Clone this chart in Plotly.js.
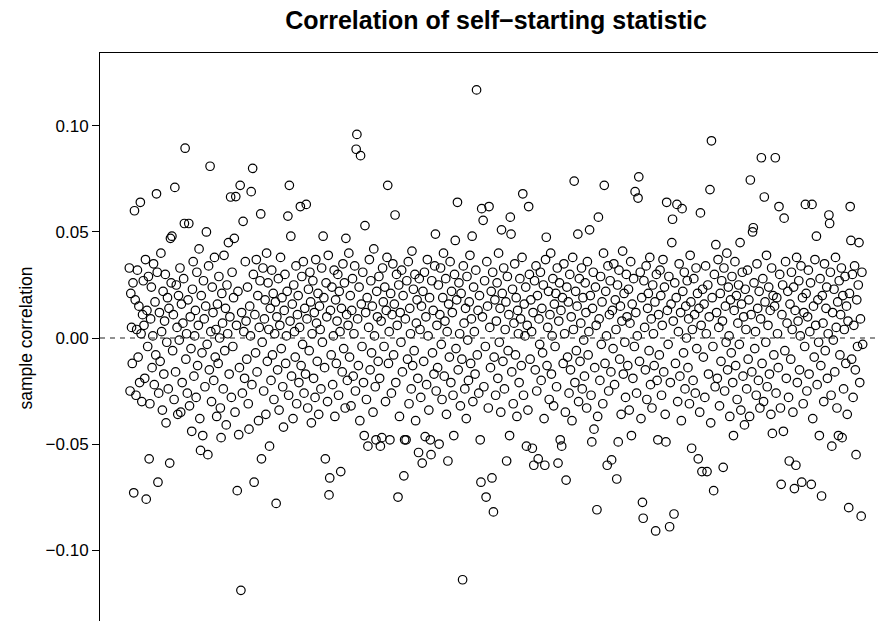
<!DOCTYPE html>
<html>
<head>
<meta charset="utf-8">
<script src="https://cdn.plot.ly/plotly-3.0.1.min.js"></script>
<style>
  html, body { margin: 0; padding: 0; overflow: hidden; background: #fff; }
  #chart { width: 900px; height: 630px; }
</style>
</head>
<body>
<div id="chart"></div>
<script>
// sample correlations, in order
const correlations = [
  .033, -.025, .021, .005, -.012, .026, -.073, .060, .018, -.027, .004, .032, -.009, .015, -.021, .064, .002, -.030, .011, .027,
  .006, -.019, .037, -.076, .013, -.004, .029, -.057, -.031, .009, .024, -.014, .001, .035, -.022, .017, -.008, .068, .031, -.068,
  -.026, .012, -.011, .040, .003, -.034, .022, -.017, .008, .030, -.040, -.002, .019, -.024, .014, -.059, .047, .026, .048, -.006,
  .011, -.029, .071, -.016, .025, .005, -.036, .020, -.001, .033, -.035, .016, -.021, .007, .028, .054, .0895, -.010, .002, -.026,
  .018, .054, -.032, .010, -.005, -.044, .023, .036, -.018, .001, .013, -.028, .031, -.013, .006, .042, -.038, -.053, .020, -.007,
  -.046, .027, .009, -.023, .015, .050, -.003, -.055, .034, -.015, .081, .003, -.030, .024, .012, -.020, .038, -.009, .004, -.037,
  .016, -.012, .029, .000, -.033, -.047, .021, .007, -.024, .039, -.006, .014, -.041, .025, .002, .045, -.017, .010, .0665, -.028,
  .031, -.004, .019, .047, -.035, .0667, .006, -.072, .022, -.0456, -.014, .072, -.119, .012, -.026, .055, .003, -.019, .036, .008,
  -.010, .024, -.031, -.043, .015, .001, .069, -.022, .080, .030, -.068, .011, -.007, .037, -.016, .020, -.039, .005, .027, .0585,
  -.057, -.002, .033, -.025, .009, .018, -.036, .040, -.011, .026, .004, -.051, .014, -.020, .032, -.008, .021, -.029, .002, .017,
  -.078, .010, -.015, .028, -.034, .006, .038, -.005, .019, -.023, -.042, .013, .030, -.012, .001, .022, .0575, -.027, .072, .008,
  .048, -.018, .016, -.038, .025, .003, -.009, .034, -.031, .011, .020, -.021, .005, .062, -.013, .029, -.003, .036, -.026, .014,
  -.017, .063, .009, -.033, .023, -.006, .031, .017, -.040, .002, .027, -.019, .012, -.028, .037, .007, -.011, .021, -.036, .015,
  .004, -.024, .033, -.002, .048, .019, -.014, -.057, .026, .010, -.030, .039, -.074, -.066, .013, -.008, .024, -.022, .001, .032,
  -.037, .018, -.012, .008, .030, -.027, .022, .003, -.063, .014, -.016, .035, -.005, .026, -.033, .047, .011, -.020, .006, .040,
  -.009, .020, -.032, .013, .028, -.018, .002, .034, -.025, .089, .096, .009, -.013, .024, -.039, .086, .016, -.004, .031, -.021,
  -.046, .053, .012, -.029, .019, -.051, .005, .037, -.015, .027, -.007, .015, -.035, .042, .001, -.023, -.048, .022, .010, -.011,
  .029, -.019, -.051, .008, -.047, .033, .017, -.004, .024, -.030, .013, .038, .072, -.012, .003, -.048, .021, -.026, .011, .035,
  -.008, .016, .058, -.021, .030, .006, -.075, .025, -.037, .012, -.002, .032, -.016, .020, -.065, -.048, .009, -.048, .027, -.010,
  .036, -.031, .014, .002, -.024, .041, -.013, .023, -.006, .030, -.039, .007, .018, -.019, -.054, .028, .004, -.028, .015, -.059,
  .022, -.011, .031, -.0465, .010, -.022, .037, .001, -.034, .019, -.048, -.055, .027, -.007, .013, -.017, .034, .049, -.025, .006,
  -.014, .025, -.050, .011, .033, -.003, -.029, .019, .040, -.018, .008, .028, -.036, .003, -.058, .016, -.009, .036, -.021, .022,
  .012, -.027, -.046, .030, .046, -.005, .018, .064, -.015, .026, .002, -.032, .021, -.010, -.114, .034, .007, -.024, .014, -.038,
  .029, -.001, -.020, .017, .039, -.012, .009, .048, -.030, .024, .003, -.017, .032, .117, -.008, .013, -.026, .020, -.048, -.068,
  .061, .010, .0555, -.023, .027, -.004, -.075, .036, .015, -.033, .062, .005, -.014, .022, -.066, .031, -.082, -.009, .018, -.027,
  .008, .026, -.019, .040, -.002, .014, -.035, .051, .021, -.011, .033, -.024, .004, .017, -.058, .029, -.006, .011, -.046, .057,
  .049, -.016, .023, -.031, .007, .035, -.008, .019, -.037, .013, .002, -.021, .028, .009, -.013, .038, .068, -.027, .016, .001,
  .024, -.051, .006, -.034, .062, .030, -.010, .018, .003, -.052, .012, -.060, .027, -.015, .034, -.025, .020, -.057, .009, -.003,
  .031, -.020, .014, -.007, .025, -.038, -.060, .037, .0475, -.013, .005, .022, -.029, .011, .040, -.017, .001, .028, -.032, .016,
  -.004, .021, -.023, .033, -.059, .008, .026, -.048, .013, -.051, .019, -.012, .035, .002, -.035, -.067, .024, -.009, .017, -.026,
  .030, -.015, .010, -.039, .038, .004, .074, -.021, .022, -.006, .015, .049, -.030, .028, -.011, .007, .033, -.024, .019, -.001,
  -.018, .026, .012, -.033, .036, -.008, .003, .051, .020, -.027, -.049, .014, .031, -.043, -.014, .024, .006, -.081, -.037, .057,
  .009, -.020, .029, -.003, .017, -.031, .040, .072, -.012, .022, .001, -.060, .034, -.025, .011, .027, -.016, -.0575, .013, -.005,
  .035, -.022, .018, .004, -.0665, .025, -.049, .032, -.010, .015, -.036, .008, .041, -.017, .021, -.002, -.028, .030, .010, -.013,
  .023, -.034, .007, .036, -.046, .016, -.019, .028, -.004, .069, .012, -.026, .001, .066, .076, -.011, .031, -.038, .019, -.0775,
  -.085, .027, .005, -.015, .034, -.029, .014, .021, -.006, .038, -.022, .009, -.033, .025, .002, -.013, .017, -.091, .030, -.020,
  -.048, .011, -.008, .032, .020, -.027, .006, .037, -.016, .024, -.036, -.049, .064, .013, -.003, .029, -.089, -.021, .016, .045,
  .056, .008, -.083, .026, -.012, .019, .063, -.030, .003, .035, -.018, .012, -.039, .061, .022, -.007, .031, -.024, .015, .000,
  .027, -.014, .009, -.031, .039, .017, -.052, .004, -.020, .028, .011, -.026, .033, -.005, .021, -.057, .014, -.035, .059, .006,
  -.063, .023, -.009, .016, -.028, .034, .002, -.063, .025, -.017, .010, .070, -.040, .093, .019, -.004, -.072, .030, -.023, .044,
  .012, -.019, .037, .005, -.032, .021, -.011, .027, .008, -.061, .033, -.025, .015, -.002, .040, -.015, .024, .001, -.037, .018,
  -.007, .029, -.021, -.046, .013, .036, -.013, .020, -.029, .007, .025, -.003, .045, -.034, .016, .031, -.018, .010, -.041, .023,
  .004, -.024, .032, -.010, .018, -.037, .0745, .011, -.016, .050, .052, .026, -.005, .003, -.027, .035, .014, -.020, .022, -.033,
  .009, .085, -.012, .028, -.030, .0665, .017, -.002, .039, -.023, .006, .024, -.017, .013, -.036, .033, -.045, .020, -.008, .015,
  .085, -.026, .019, .002, -.014, .062, .030, -.033, -.069, .011, .025, -.044, .0565, -.006, .036, -.019, .007, .022, -.028, -.058,
  .016, -.010, .031, .004, -.035, .024, -.071, .013, -.060, .038, -.021, .008, .027, -.015, .001, .034, -.068, .019, -.031, .012,
  -.004, .063, .021, -.025, .010, .032, -.017, .003, .026, -.069, .063, -.038, .015, -.009, .037, .006, .048, -.022, .018, -.002,
  -.046, .028, -.013, -.0745, .020, .007, -.030, .035, -.006, .014, .024, -.019, .002, .058, .054, .031, -.027, -.051, .012, -.001,
  .023, -.016, .038, .005, -.033, .017, -.046, .027, -.008, .011, .033, -.047, .020, -.024, .004, .029, -.012, .015, -.036, .008,
  -.080, .021, .062, .046, -.010, .030, -.028, .006, .034, -.015, -.055, .018, -.004, .025, .045, -.021, .009, -.084, .031, -.003
];

// sample number for each correlation
const sampleIndex = correlations.map((_, i) => i + 1);

// y-axis ticks
const yTickValues = [-0.10, -0.05, 0.00, 0.05, 0.10];
const yTickLabels = ["\u22120.10", "\u22120.05", "0.00", "0.05", "0.10"];

const chartTitle = "Correlation of self\u2212starting statistic";
const yTitle = "sample correlation";

const n = sampleIndex.length;
const xPad = 0.04 * (n - 1);
const yLim = 0.1344;

const trace = {
  type: "scatter",
  mode: "markers",
  x: sampleIndex,
  y: correlations,
  marker: {
    symbol: "circle-open",
    size: 8.5,
    color: "#000",
    line: { width: 1.2, color: "#000" }
  },
  hoverinfo: "x+y",
  showlegend: false
};

const layout = {
  width: 900,
  height: 630,
  margin: { l: 100, r: 8, t: 53, b: 7 },
  paper_bgcolor: "#fff",
  plot_bgcolor: "#fff",
  font: { family: "Liberation Sans, Arial, Helvetica, sans-serif", color: "#000", size: 17 },
  title: {
    text: "<b>" + chartTitle + "</b>",
    font: { family: "Liberation Sans, Arial, Helvetica, sans-serif", size: 25, color: "#000" },
    xref: "paper",
    x: 0.5,
    xanchor: "center",
    yref: "container",
    y: 1 - 11 / 630,
    yanchor: "top"
  },
  xaxis: {
    range: [1 - xPad, n + xPad],
    showgrid: false,
    zeroline: false,
    showline: true,
    mirror: true,
    linecolor: "#000",
    linewidth: 1,
    ticks: "",
    showticklabels: false
  },
  yaxis: {
    range: [-yLim, yLim],
    showgrid: false,
    zeroline: false,
    showline: true,
    mirror: true,
    linecolor: "#000",
    linewidth: 1,
    ticks: "outside",
    ticklen: 7,
    tickwidth: 1,
    tickcolor: "#000",
    tickvals: yTickValues,
    ticktext: yTickLabels,
    tickfont: { size: 17, color: "#000" },
    automargin: true,
    title: { text: yTitle, font: { size: 17.5, color: "#000" }, standoff: 8 }
  },
  shapes: [{
    type: "line",
    xref: "paper", x0: 0, x1: 1,
    yref: "y", y0: 0, y1: 0,
    line: { color: "#222", width: 1, dash: "5px,5px" }
  }]
};

Plotly.newPlot("chart", [trace], layout, { displayModeBar: false, staticPlot: true });
</script>
</body>
</html>
